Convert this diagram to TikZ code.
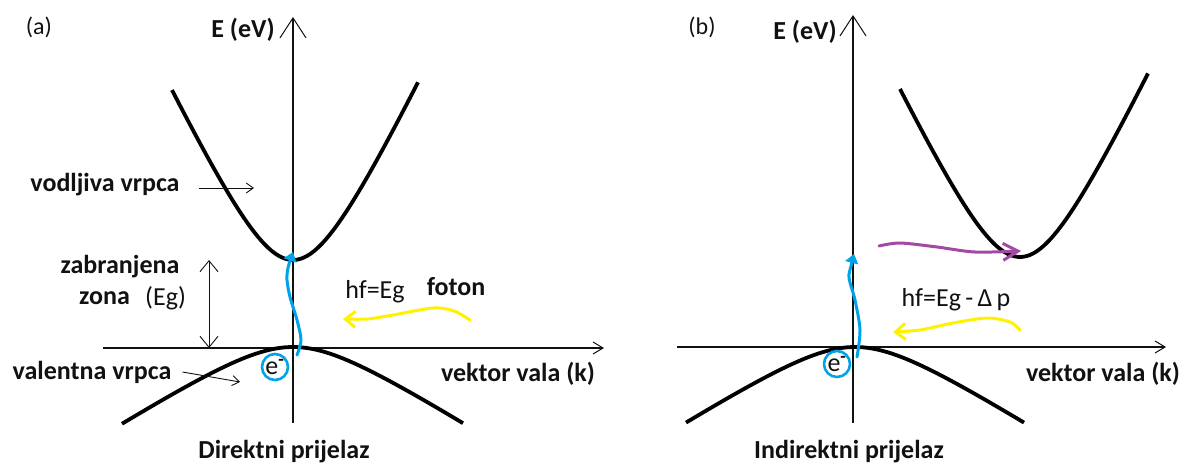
\documentclass[tikz,border=0pt]{standalone}
\usepackage{fontspec}
\setmainfont{Carlito}
\usetikzlibrary{arrows.meta,positioning}
\definecolor{Ink}{HTML}{111111}
\definecolor{Electron}{HTML}{00A2E8}
\definecolor{Photon}{HTML}{FFF200}
\definecolor{Phonon}{HTML}{A349A4}
\tikzset{
  boldtext/.style={font=\fontsize{26}{30}\selectfont\bfseries,text=Ink,inner sep=0pt},
  plaintext/.style={font=\fontsize{26}{30}\selectfont,text=Ink,inner sep=0pt},
  tagtext/.style={font=\fontsize{24}{28}\selectfont,text=Ink,inner sep=0pt},
  energyaxis/.style={draw=Ink,line width=1.1pt,-{Straight Barb[length=20pt,width=26pt,line width=1pt]}},
  waveaxis/.style={draw=Ink,line width=1.1pt,-{Straight Barb[length=10pt,width=12pt,line width=1pt]}},
  bandline/.style={draw=black,line width=3.8pt},
  pointer/.style={draw=Ink,line width=.9pt,-{Straight Barb[length=7pt,width=10pt]}},
  gaparrow/.style={draw=Ink,line width=.9pt,{Straight Barb[length=11pt,width=18pt]}-{Straight Barb[length=11pt,width=18pt]}},
  electron/.style={draw=Electron,line width=3pt,line cap=round,-{Triangle[length=9pt,width=13pt]}},
  photon/.style={draw=Photon,line width=3pt,line cap=round,-{Straight Barb[length=10pt,width=16pt]}},
  phonon/.style={draw=Phonon,line width=3pt,line cap=round,-{Straight Barb[length=15pt,width=17pt]}},
  ecirc/.style={circle,draw=Electron,line width=2.6pt,minimum size=26pt,inner sep=0pt,
    font=\fontsize{26}{30}\selectfont,text=Ink}
}
\begin{document}
\begin{tikzpicture}[x=1pt,y=-1pt]
\useasboundingbox (0,0) rectangle (1184,466);

% (a) direktni prijelaz
\node[tagtext] (tagA) at (39,27) {(a)};
\coordinate (yA0) at (293,423);
\coordinate (yA1) at (293,17);
\coordinate (kA0) at (103,348);
\coordinate (kA1) at (604,348);
\draw[energyaxis] (yA0) -- (yA1);
\draw[waveaxis] (kA0) -- (kA1);
\node[boldtext] (enA) at (243,30) {E (eV)};
\node[boldtext] (kvA) at (518,374) {vektor vala (k)};

\draw[bandline] plot[domain=-121:125,samples=70] ({293+\x},{260-105*(sqrt(1+(\x/50)^2)-1)});
\draw[bandline] plot[domain=-171:170,samples=70] ({293+\x},{347+38*(sqrt(1+(\x/60)^2)-1)});

\node[boldtext] (vodA) at (105,185) {vodljiva vrpca};
\coordinate (vodtip) at (254,188);
\draw[pointer] ([xshift=19pt]vodA.east |- vodtip) -- (vodtip);

\node[boldtext] (zabA) at (120,267) {zabranjena};
\node[boldtext] (zonA) at (104.5,298) {zona};
\node[plaintext,right=15pt of zonA] (egA) {(Eg)};
\coordinate (gapT) at (209,260);
\coordinate (gapB) at (209,348);
\draw[gaparrow] (gapB) -- (gapT);

\node[boldtext] (valA) at (92,372) {valentna vrpca};
\coordinate (valtip) at (240,382);
\draw[pointer] ([xshift=11pt]valA.east) -- (valtip);

\node[ecirc] (elA) at (275,367) {e\textsuperscript{\bfseries -}};
\draw[electron] plot[smooth] coordinates {(297,355) (301,340) (297,320) (290,297) (287,280) (288,268) (293,252)};

\node[plaintext] (hfA) at (375,292) {hf=Eg};
\node[boldtext] (fotA) at (456,287) {foton};
\draw[photon] plot[smooth] coordinates {(470,320) (454,311) (433,308) (393,315) (367,319) (343,319)};

\node[boldtext] (titA) at (284,452) {Direktni prijelaz};

% (b) indirektni prijelaz
\node[tagtext] (tagB) at (702,27) {(b)};
\coordinate (yB0) at (853,423);
\coordinate (yB1) at (853,15);
\coordinate (kB0) at (677,347);
\coordinate (kB1) at (1166,347);
\draw[energyaxis] (yB0) -- (yB1);
\draw[waveaxis] (kB0) -- (kB1);
\node[boldtext] (enB) at (805,32) {E (eV)};
\node[boldtext] (kvB) at (1103,374) {vektor vala (k)};

\draw[bandline] plot[domain=-120:128,samples=70] ({1020+\x},{257-105*(sqrt(1+(\x/50)^2)-1)});
\draw[bandline] plot[domain=-169:169,samples=70] ({855+\x},{347+38*(sqrt(1+(\x/60)^2)-1)});

\node[ecirc] (elB) at (837,364) {e\textsuperscript{\bfseries -}};
\draw[electron] plot[smooth] coordinates {(857,357) (860,330) (855,300) (849,278) (851,266) (854,254)};
\draw[phonon] plot[smooth] coordinates {(879,246) (900,243) (937,247) (975,252) (1021,251)};

\node[plaintext] (hfB) at (956,300) {hf=Eg\,-\,Δ\,p};
\draw[photon] plot[smooth] coordinates {(1020,330) (1010,322) (987,318) (953,323) (920,330) (893,332)};

\node[boldtext] (titB) at (849,452) {Indirektni prijelaz};
\end{tikzpicture}
\end{document}
